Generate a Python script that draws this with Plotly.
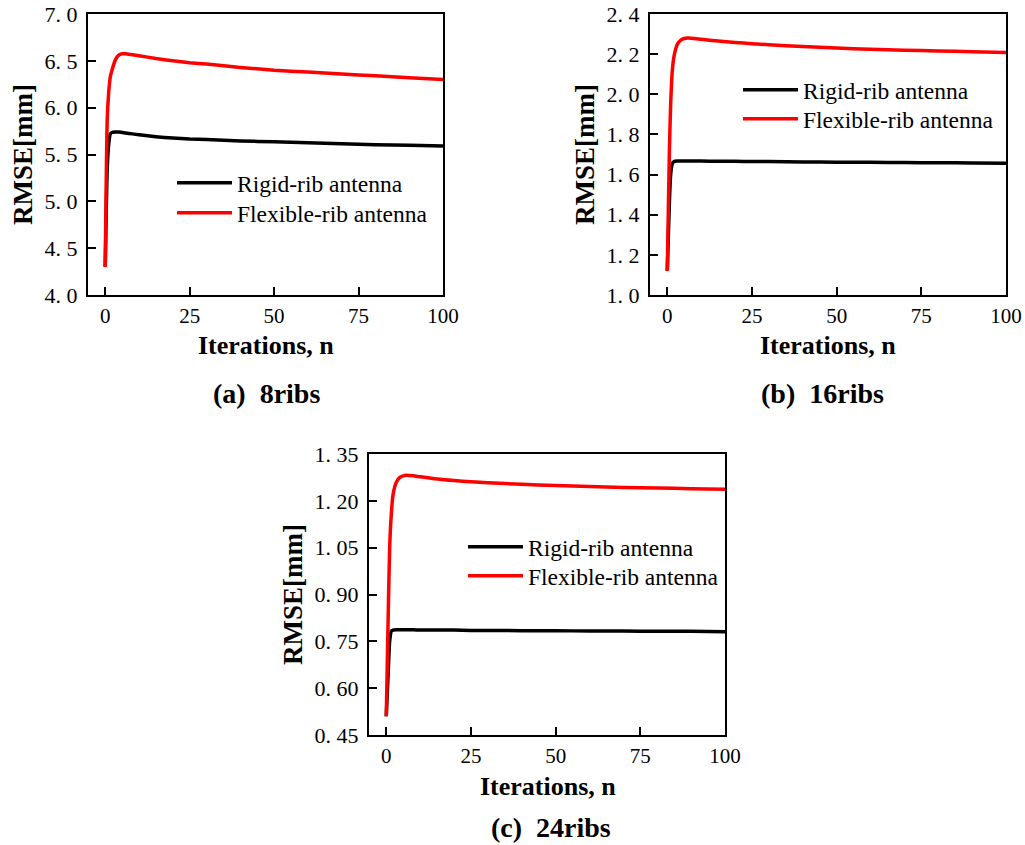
import plotly.graph_objects as go

# ---------------- data ----------------
iters = [0, 0.6, 1, 1.5, 2, 3, 4, 5, 6, 8, 10, 15, 20, 25, 30, 40, 50, 60, 70, 80, 90, 100]

a_rigid = [4.30, 5.35, 5.60, 5.72, 5.735, 5.74, 5.74, 5.735, 5.73, 5.72, 5.71, 5.69, 5.675,
           5.665, 5.66, 5.645, 5.635, 5.625, 5.615, 5.605, 5.60, 5.59]
a_flex = [4.30, 5.88, 6.15, 6.33, 6.40, 6.51, 6.56, 6.575, 6.575, 6.565, 6.555, 6.525, 6.50,
          6.48, 6.465, 6.43, 6.40, 6.38, 6.36, 6.34, 6.32, 6.30]

b_rigid = [1.12, 1.45, 1.60, 1.655, 1.665, 1.668, 1.668, 1.668, 1.668, 1.667, 1.667, 1.666,
           1.666, 1.665, 1.665, 1.663, 1.662, 1.661, 1.660, 1.659, 1.658, 1.656]
b_flex = [1.12, 1.70, 1.95, 2.12, 2.19, 2.25, 2.27, 2.278, 2.28, 2.278, 2.274, 2.265, 2.258,
          2.252, 2.247, 2.238, 2.230, 2.225, 2.220, 2.216, 2.212, 2.208]

c_rigid = [0.51, 0.66, 0.75, 0.783, 0.786, 0.787, 0.787, 0.787, 0.787, 0.787, 0.786, 0.786,
           0.786, 0.785, 0.785, 0.784, 0.784, 0.783, 0.783, 0.782, 0.782, 0.781]
c_flex = [0.51, 0.85, 1.05, 1.16, 1.22, 1.26, 1.275, 1.28, 1.282, 1.28, 1.277, 1.27, 1.265,
          1.261, 1.258, 1.253, 1.249, 1.246, 1.243, 1.241, 1.239, 1.237]

series_names = ["Rigid-rib antenna", "Flexible-rib antenna"]
captions = ["(a)  8ribs", "(b)  16ribs", "(c)  24ribs"]
x_title = "Iterations, n"
y_title = "RMSE[mm]"
x_ticks = [0, 25, 50, 75, 100]
a_yticks = [4.0, 4.5, 5.0, 5.5, 6.0, 6.5, 7.0]
b_yticks = [1.0, 1.2, 1.4, 1.6, 1.8, 2.0, 2.2, 2.4]
c_yticks = [0.45, 0.60, 0.75, 0.90, 1.05, 1.20, 1.35]

# ---------------- figure ----------------
W, H = 1025, 845
SERIF = "Liberation Serif, Times New Roman, serif"
colors = ["#000000", "#ff0000"]

fig = go.Figure()

panels = [
    dict(xa="x", ya="y", data=[a_rigid, a_flex]),
    dict(xa="x2", ya="y2", data=[b_rigid, b_flex]),
    dict(xa="x3", ya="y3", data=[c_rigid, c_flex]),
]
# one single-entry legend per series so each row can be placed exactly
leg_keys = []
k = 0
for p in panels:
    for name, vals, col in zip(series_names, p["data"], colors):
        key = "legend" if k == 0 else f"legend{k + 1}"
        leg_keys.append(key)
        k += 1
        fig.add_trace(go.Scatter(
            x=iters, y=vals, mode="lines", name=name,
            line=dict(color=col, width=3.5, shape="spline", smoothing=0.6),
            xaxis=p["xa"], yaxis=p["ya"], legend=key, showlegend=True,
        ))

# plot-area boxes in pixels (left, right, top, bottom)
boxes = [(88, 443, 14, 295), (650, 1006, 14, 295), (369, 725, 454, 735)]
yticksets = [(a_yticks, 1), (b_yticks, 1), (c_yticks, 2)]


def fmt(v, d):
    s = f"{v:.{d}f}"
    return s.replace(".", ". ")


layout = dict(
    width=W, height=H,
    margin=dict(l=0, r=0, t=0, b=0, autoexpand=False),
    paper_bgcolor="white", plot_bgcolor="white",
    font=dict(family=SERIF, color="black"),
    showlegend=True,
)

for i, ((l, r, t, b), (yt, dec)) in enumerate(zip(boxes, yticksets)):
    sfx = "" if i == 0 else str(i + 1)
    layout["xaxis" + sfx] = dict(
        domain=[l / W, r / W], anchor="y" + sfx, range=[-5.1, 100],
        tickvals=x_ticks, ticktext=[str(v) for v in x_ticks],
        ticks="inside", ticklen=8, tickwidth=2, tickcolor="black",
        showline=True, linecolor="black", linewidth=2, mirror=True,
        showgrid=False, zeroline=False, automargin=False,
        tickfont=dict(family=SERIF, size=21, color="black"),
        ticklabelstandoff=1,
    )
    layout["yaxis" + sfx] = dict(
        domain=[1 - b / H, 1 - t / H], anchor="x" + sfx, range=[yt[0], yt[-1]],
        tickvals=yt, ticktext=[fmt(v, dec) for v in yt],
        ticks="inside", ticklen=8, tickwidth=2, tickcolor="black",
        showline=True, linecolor="black", linewidth=2, mirror=True,
        showgrid=False, zeroline=False, automargin=False,
        tickfont=dict(family=SERIF, size=22, color="black"),
        ticklabelstandoff=4,
        title=dict(text="<b>" + y_title + "</b>", standoff=4,
                   font=dict(family=SERIF, size=27, color="black")),
    )

# legend rows: (line start x, row centre y) in pixels
leg_rows = [(177, 183), (177, 213), (743, 90), (743, 119), (468, 547), (468, 576)]
for key, (lx, ty) in zip(leg_keys, leg_rows):
    layout[key] = dict(
        x=(lx - 5) / W, xanchor="left",
        y=1 - (ty - 22) / H, yanchor="top",
        bgcolor="rgba(0,0,0,0)", borderwidth=0,
        font=dict(family=SERIF, size=23.5, color="black"),
        itemwidth=55,
    )

annotations = []
# x-axis titles
xt_pos = [(266, 345), (828, 345), (548, 786)]
for cx, cy in xt_pos:
    annotations.append(dict(
        text="<b>" + x_title + "</b>", x=cx / W, y=1 - cy / H, xref="paper", yref="paper",
        xanchor="center", yanchor="middle", showarrow=False,
        font=dict(family=SERIF, size=26, color="black"),
    ))
# panel captions
cap_pos = [(266, 393), (822, 393), (551, 827)]
for txt, (cx, cy) in zip(captions, cap_pos):
    annotations.append(dict(
        text="<b>" + txt + "</b>", x=cx / W, y=1 - cy / H, xref="paper", yref="paper",
        xanchor="center", yanchor="middle", showarrow=False,
        font=dict(family=SERIF, size=28, color="black"),
    ))
layout["annotations"] = annotations

fig.update_layout(**layout)
fig.write_html("out.html")
